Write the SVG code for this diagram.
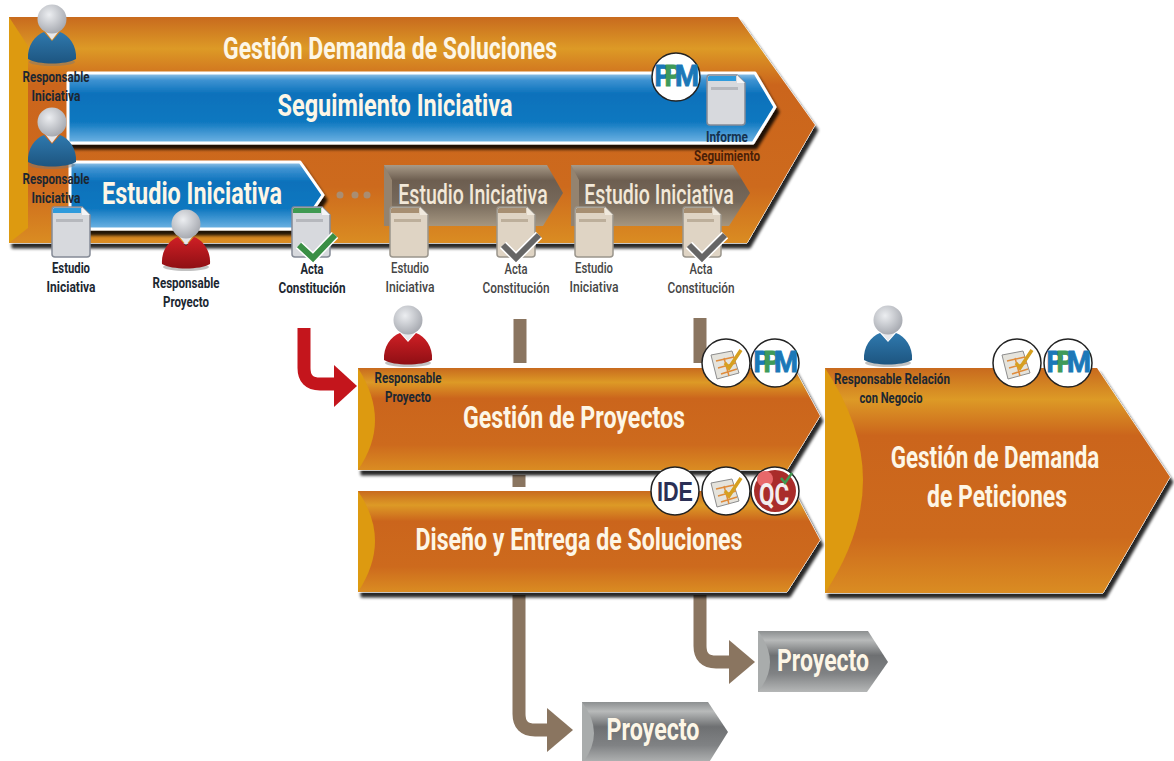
<svg xmlns="http://www.w3.org/2000/svg" xmlns:xlink="http://www.w3.org/1999/xlink" width="1174" height="761" viewBox="0 0 1174 761">
<style>
text{font-family:"Roboto","Liberation Sans",sans-serif;font-weight:700;text-anchor:middle}
.t{font-size:32px;fill:#fdf6e6}
.tb{font-size:28px;font-weight:500;fill:#f2e8d8}
.l{font-size:14px;fill:#1c2731}
.g{font-size:14px;font-weight:500;fill:#454545}
.o{fill:url(#orange)}
.b{fill:url(#blue)}
.br{fill:url(#brown)}
.gr{fill:url(#grey)}
.sh{fill:#fff;stroke:#fff;stroke-width:1;filter:url(#shadow)}
.wl{stroke:#fff;stroke-width:3;stroke-linejoin:round;filter:url(#shadow)}
.amber{fill:#dd9a10}
.c{fill:#fff;stroke:#222;stroke-width:1.5}
.cb{fill:none;stroke:#8a7560;stroke-width:13;stroke-linejoin:round}
.cb2{fill:#8a7560}
.head{fill:url(#headG)}
.chk{fill:none;stroke-width:6;stroke-linecap:butt;stroke-linejoin:miter}
</style>
<defs>
<linearGradient id="orange" x1="0" y1="0" x2="0" y2="1">
<stop offset="0" stop-color="#c86a1e"/><stop offset=".14" stop-color="#dd9a26"/><stop offset=".3" stop-color="#cb651c"/><stop offset=".75" stop-color="#cd6a1d"/><stop offset="1" stop-color="#da8c22"/>
</linearGradient>
<linearGradient id="blue" x1="0" y1="0" x2="0" y2="1">
<stop offset="0" stop-color="#9cc8e8"/><stop offset=".1" stop-color="#3f93d2"/><stop offset=".3" stop-color="#0a71bb"/><stop offset=".7" stop-color="#0f78c0"/><stop offset="1" stop-color="#70b4e4"/>
</linearGradient>
<linearGradient id="brown" x1="0" y1="0" x2="0" y2="1">
<stop offset="0" stop-color="#a89a88"/><stop offset=".25" stop-color="#6d5e50"/><stop offset=".6" stop-color="#75685a"/><stop offset="1" stop-color="#a59680"/>
</linearGradient>
<linearGradient id="grey" x1="0" y1="0" x2="0" y2="1">
<stop offset="0" stop-color="#8c8f90"/><stop offset=".15" stop-color="#b8baba"/><stop offset=".4" stop-color="#6e7072"/><stop offset=".7" stop-color="#808284"/><stop offset="1" stop-color="#b5b7b7"/>
</linearGradient>
<radialGradient id="headG" cx=".4" cy=".35" r=".7">
<stop offset="0" stop-color="#eceef1"/><stop offset="1" stop-color="#a3a6ad"/>
</radialGradient>
<linearGradient id="pBlue" x1="0" y1="0" x2="0" y2="1"><stop offset="0" stop-color="#2f79ae"/><stop offset="1" stop-color="#1d5580"/></linearGradient>
<linearGradient id="pRed" x1="0" y1="0" x2="0" y2="1"><stop offset="0" stop-color="#cf1f25"/><stop offset="1" stop-color="#8f0f14"/></linearGradient>
<filter id="shadow" x="-5%" y="-5%" width="112%" height="120%">
<feGaussianBlur in="SourceAlpha" stdDeviation="1.6"/><feOffset dx="3" dy="5"/><feComponentTransfer><feFuncA type="linear" slope=".85"/></feComponentTransfer><feMerge><feMergeNode/><feMergeNode in="SourceGraphic"/></feMerge>
</filter>
<g id="person">
<ellipse cx="0" cy="43" rx="23" ry="4" fill="#777" opacity=".45"/>
<path d="M-24 40C-25 27-17 16-8 13L0 22 8 13C17 16 25 27 24 40 14 46-14 46-24 40Z"/>
<path d="M-7 12L0 21 7 12Z" fill="#e6e7ea"/>
<circle class="head" cx="0" cy="0" r="14.5"/>
</g>
<g id="doc">
<path d="M2 0H30L38 8V47Q38 50 35 50H3Q0 50 0 47V3Q0 0 2 0Z" fill="#d7d9dd" stroke="#858b96" stroke-width="1.5"/>
<path d="M30 0L38 8H30Z" fill="#f4f5f7"/>
<path d="M2 1H29V6H1V2Z" fill="currentColor"/>
<rect x="4" y="12" width="27" height="3" fill="#b6b8bd"/>
</g>
<g id="docT">
<path d="M2 0H30L38 8V47Q38 50 35 50H3Q0 50 0 47V3Q0 0 2 0Z" fill="#dfd4c4" stroke="#9a958c" stroke-width="1.5"/>
<path d="M30 0L38 8H30Z" fill="#f0e9dd"/>
<path d="M2 1H29V6H1V2Z" fill="#a78f72"/>
<rect x="4" y="12" width="27" height="3" fill="#bdaf9b"/>
</g>
<g id="edit">
<path d="M-15 -8L6 -12 13 10-9 16Z" fill="#e5e3dc" stroke="#8d8d8d"/>
<path d="M-10 -2L8 -6M-8 5L10 0M-5 11L11 6M-2 -5L3 13" stroke="#e08c3c" stroke-width="1.5" fill="none"/>
<path d="M-1 0L3 5 15 -13" stroke="#d6a020" stroke-width="3.5" fill="none"/>
</g>
<g id="ppm" style="stroke-width:.9">
<text x="-13" y="9" style="font-size:30px;fill:#1b78b8;stroke:#1b78b8" textLength="17" lengthAdjust="spacingAndGlyphs">P</text>
<text x="-3" y="9" style="font-size:30px;fill:#3f9a5a;stroke:#3f9a5a" textLength="17" lengthAdjust="spacingAndGlyphs">P</text>
<text x="11" y="9" style="font-size:30px;fill:#1b78b8;stroke:#1b78b8" textLength="24" lengthAdjust="spacingAndGlyphs">M</text>
</g>
<polygon id="pTop" points="9,17 738,17 815,125 747,243 9,243"/>
<polygon id="pSeg" points="68,73 755,73 775,107 753,143 68,143"/>
<polygon id="pEst" points="70,162 300,162 323,195 300,229 70,229"/>
<polygon id="pB1" points="384,165 547,165 563,193 543,226 384,226"/>
<polygon id="pB2" points="571,165 733,165 750,193 729,226 571,226"/>
<polygon id="pGP" points="358,368 794,368 820,416 787,470 358,470"/>
<polygon id="pDE" points="358,491 794,491 820,540 787,592 358,592"/>
<polygon id="pGD" points="825,368 1097,368 1170,477 1103,593 825,593"/>
<polygon id="pT1" points="582,702 708,702 728,732 708,764 582,764"/>
<polygon id="pT2" points="758,631 868,631 888,662 867,692 758,692"/>
</defs>

<rect width="1174" height="761" fill="#fff"/>

<g id="connectors">
<path class="cb" d="M520 319V363M519 475V487M519 595V714Q519 730 535 730H549"/>
<path class="cb" d="M700 318V363M700 595V646Q700 662 716 662H731"/>
<polygon class="cb2" points="547,708 573,730 547,752"/>
<polygon class="cb2" points="729,640 755,662 729,684"/>
<path d="M304 328V368Q304 384 320 384H336" fill="none" stroke="#c4151c" stroke-width="13"/>
<polygon points="334,365 357,386 334,407" fill="#c4151c"/>
</g>

<g id="gestion-demanda-soluciones">
<use xlink:href="#pTop" class="sh"/><use xlink:href="#pTop" class="o"/>
<path class="amber" d="M9 17L28 46V228L9 243Z"/>
<text class="t" x="390" y="59" textLength="334" lengthAdjust="spacingAndGlyphs">Gestión Demanda de Soluciones</text>
</g>

<g id="seguimiento-iniciativa">
<use xlink:href="#pSeg" class="b wl"/>
<text class="t" x="395" y="116" textLength="235" lengthAdjust="spacingAndGlyphs">Seguimiento Iniciativa</text>
</g>

<g id="estudio-iniciativa">
<use xlink:href="#pEst" class="b wl"/>
<text class="t" x="192" y="204" textLength="180" lengthAdjust="spacingAndGlyphs">Estudio Iniciativa</text>
</g>

<g id="dots" fill="#a98d72">
<circle cx="340" cy="195" r="3.5"/><circle cx="355" cy="195" r="3.5"/><circle cx="367" cy="195" r="3.5"/>
</g>

<g id="estudio-iniciativa-2">
<use xlink:href="#pB1" class="br"/>
<path d="M384 165L392 180V226H384Z" fill="#94836f"/>
<text class="tb" transform="translate(473 204) scale(.7 1)">Estudio Iniciativa</text>
</g>
<g id="estudio-iniciativa-3">
<use xlink:href="#pB2" class="br"/>
<path d="M571 165L579 180V226H571Z" fill="#94836f"/>
<text class="tb" transform="translate(659 204) scale(.7 1)">Estudio Iniciativa</text>
</g>

<g id="ppm-top">
<circle class="c" cx="676" cy="77" r="24"/>
<use xlink:href="#ppm" x="676" y="77"/>
</g>
<g id="doc-informe">
<use xlink:href="#doc" x="707" y="75" color="#2f9bdc"/>
<text class="l" x="727" y="142" textLength="42" lengthAdjust="spacingAndGlyphs" style="fill:#15324f">Informe</text>
<text class="l" x="727" y="161" textLength="66" lengthAdjust="spacingAndGlyphs" style="fill:#4a1f08">Seguimiento</text>
</g>

<g id="resp-iniciativa-1">
<use xlink:href="#person" x="52" y="19" fill="url(#pBlue)"/>
<text class="l" x="56" y="82" textLength="67" lengthAdjust="spacingAndGlyphs">Responsable</text>
<text class="l" x="56" y="101" textLength="49" lengthAdjust="spacingAndGlyphs">Iniciativa</text>
</g>
<g id="resp-iniciativa-2">
<use xlink:href="#person" x="52" y="122" fill="url(#pBlue)"/>
<text class="l" x="56" y="184" textLength="67" lengthAdjust="spacingAndGlyphs">Responsable</text>
<text class="l" x="56" y="203" textLength="49" lengthAdjust="spacingAndGlyphs">Iniciativa</text>
</g>

<g id="doc-estudio">
<use xlink:href="#doc" x="52" y="207" color="#2f9bdc"/>
<text class="l" x="71" y="273" textLength="38" lengthAdjust="spacingAndGlyphs">Estudio</text>
<text class="l" x="71" y="292" textLength="49" lengthAdjust="spacingAndGlyphs">Iniciativa</text>
</g>
<g id="resp-proyecto">
<use xlink:href="#person" x="186" y="224" fill="url(#pRed)"/>
<text class="l" x="186" y="288" textLength="67" lengthAdjust="spacingAndGlyphs">Responsable</text>
<text class="l" x="186" y="307" textLength="46" lengthAdjust="spacingAndGlyphs">Proyecto</text>
</g>
<g id="doc-acta">
<use xlink:href="#doc" x="292" y="207" color="#3f9a52"/>
<path class="chk" stroke="#fff" style="stroke-width:9" d="M299 245L313 258 335 235"/>
<path class="chk" stroke="#3a8f45" d="M299 245L313 258 335 235"/>
<text class="l" x="312" y="274" textLength="23" lengthAdjust="spacingAndGlyphs">Acta</text>
<text class="l" x="312" y="293" textLength="67" lengthAdjust="spacingAndGlyphs">Constitución</text>
</g>
<g id="doc-estudio-2">
<use xlink:href="#docT" x="390" y="207"/>
<text class="g" x="410" y="273" textLength="38" lengthAdjust="spacingAndGlyphs">Estudio</text>
<text class="g" x="410" y="292" textLength="49" lengthAdjust="spacingAndGlyphs">Iniciativa</text>
</g>
<g id="doc-acta-2">
<use xlink:href="#docT" x="497" y="207"/>
<path class="chk" stroke="#fff" style="stroke-width:9" d="M503 245L516 258 539 235"/>
<path class="chk" stroke="#666" d="M503 245L516 258 539 235"/>
<text class="g" x="516" y="274" textLength="23" lengthAdjust="spacingAndGlyphs">Acta</text>
<text class="g" x="516" y="293" textLength="67" lengthAdjust="spacingAndGlyphs">Constitución</text>
</g>
<g id="doc-estudio-3">
<use xlink:href="#docT" x="575" y="207"/>
<text class="g" x="594" y="273" textLength="38" lengthAdjust="spacingAndGlyphs">Estudio</text>
<text class="g" x="594" y="292" textLength="49" lengthAdjust="spacingAndGlyphs">Iniciativa</text>
</g>
<g id="doc-acta-3">
<use xlink:href="#docT" x="683" y="207"/>
<path class="chk" stroke="#fff" style="stroke-width:9" d="M689 245L702 258 725 235"/>
<path class="chk" stroke="#666" d="M689 245L702 258 725 235"/>
<text class="g" x="701" y="274" textLength="23" lengthAdjust="spacingAndGlyphs">Acta</text>
<text class="g" x="701" y="293" textLength="67" lengthAdjust="spacingAndGlyphs">Constitución</text>
</g>

<g id="gestion-proyectos">
<use xlink:href="#pGP" class="sh"/><use xlink:href="#pGP" class="o"/>
<path class="amber" d="M358 368Q375 395 375 420 375 445 358 470Z"/>
<text class="t" x="574" y="428" textLength="222" lengthAdjust="spacingAndGlyphs">Gestión de Proyectos</text>
<use xlink:href="#person" x="408" y="320" fill="url(#pRed)"/>
<text class="l" x="408" y="383" textLength="67" lengthAdjust="spacingAndGlyphs">Responsable</text>
<text class="l" x="408" y="402" textLength="46" lengthAdjust="spacingAndGlyphs">Proyecto</text>
<circle class="c" cx="726" cy="363" r="24"/><use xlink:href="#edit" x="726" y="363"/>
<circle class="c" cx="775" cy="363" r="24"/><use xlink:href="#ppm" x="775" y="363"/>
</g>

<g id="diseno-entrega">
<use xlink:href="#pDE" class="sh"/><use xlink:href="#pDE" class="o"/>
<path class="amber" d="M358 491Q375 516 375 541 375 566 358 592Z"/>
<text class="t" x="579" y="550" textLength="327" lengthAdjust="spacingAndGlyphs">Diseño y Entrega de Soluciones</text>
<circle class="c" cx="675" cy="491" r="24"/>
<text x="675" y="501" style="font-size:27px;font-weight:700;fill:#2a2f55;font-family:'Liberation Sans',sans-serif" textLength="36" lengthAdjust="spacingAndGlyphs">IDE</text>
<circle class="c" cx="726" cy="491" r="24"/><use xlink:href="#edit" x="726" y="491"/>
<circle class="c" cx="775" cy="491" r="24"/>
<circle cx="775" cy="491" r="21" fill="#a92c2a"/>
<circle cx="765" cy="479" r="8" fill="#e8686a"/>
<text x="774" y="505" style="font-size:32px;fill:#f3eeee" textLength="30" lengthAdjust="spacingAndGlyphs">QC</text>
<path d="M781 478L785 483 792 473" fill="none" stroke="#3f9a52" stroke-width="2.5"/>
</g>

<g id="gestion-demanda-peticiones">
<use xlink:href="#pGD" class="sh"/><use xlink:href="#pGD" class="o"/>
<path class="amber" d="M825 368Q863 425 863 480 863 535 825 593Z"/>
<text class="t" transform="translate(995 468) scale(.7 1)">Gestión de Demanda</text>
<text class="t" x="997" y="507" textLength="140" lengthAdjust="spacingAndGlyphs">de Peticiones</text>
<use xlink:href="#person" x="888" y="320" fill="url(#pBlue)"/>
<text class="l" x="892" y="384" textLength="116" lengthAdjust="spacingAndGlyphs">Responsable Relación</text>
<text class="l" x="891" y="403" textLength="63" lengthAdjust="spacingAndGlyphs">con Negocio</text>
<circle class="c" cx="1017" cy="363" r="24"/><use xlink:href="#edit" x="1017" y="363"/>
<circle class="c" cx="1068" cy="363" r="24"/><use xlink:href="#ppm" x="1068" y="363"/>
</g>

<g id="proyecto-1">
<use xlink:href="#pT1" class="gr"/>
<path d="M582 702Q594 718 594 733 594 748 582 764Z" fill="#a9acac"/>
<text class="t" x="653" y="740" textLength="93" lengthAdjust="spacingAndGlyphs">Proyecto</text>
</g>
<g id="proyecto-2">
<use xlink:href="#pT2" class="gr"/>
<path d="M758 631Q770 647 770 662 770 677 758 692Z" fill="#a9acac"/>
<text class="t" x="823" y="671" textLength="92" lengthAdjust="spacingAndGlyphs">Proyecto</text>
</g>
</svg>
